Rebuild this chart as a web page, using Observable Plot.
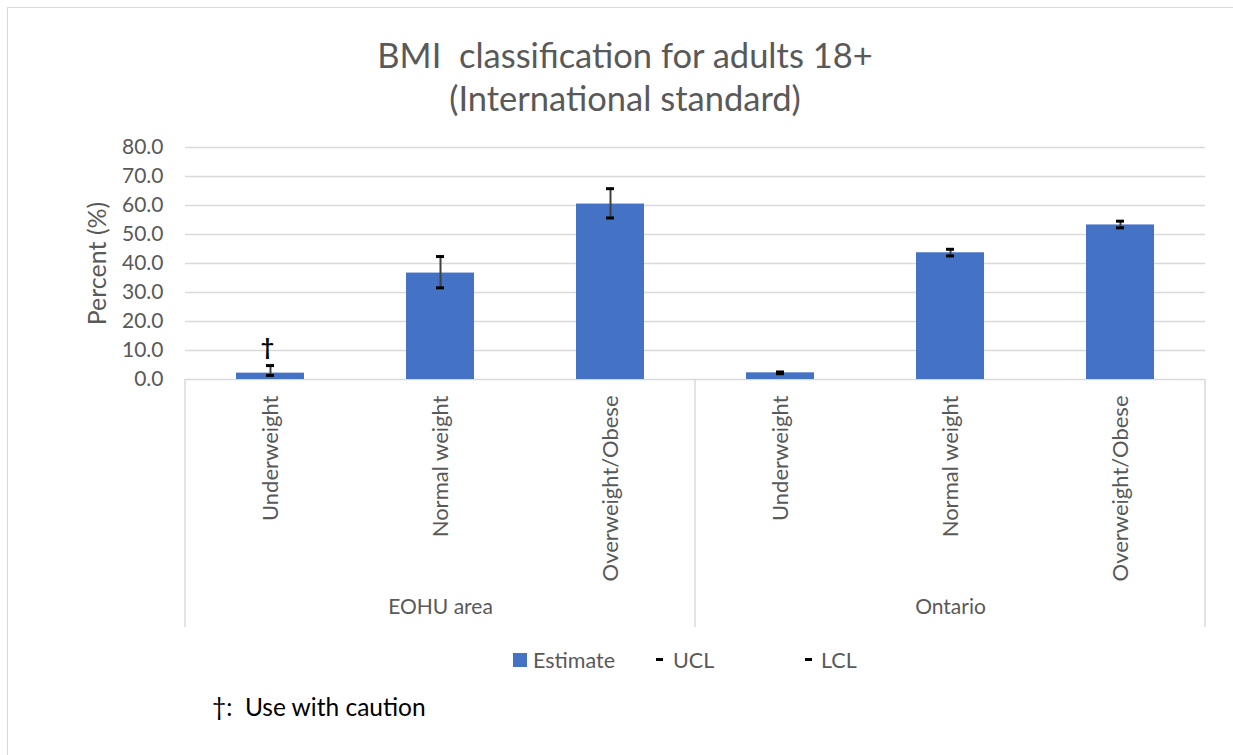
<!DOCTYPE html>
<html>
<head>
<meta charset="utf-8">
<script src="https://cdn.jsdelivr.net/npm/d3@7"></script>
<script src="https://cdn.jsdelivr.net/npm/@observablehq/plot@0.6"></script>
<style>
html, body { margin: 0; padding: 0; background: #fff; overflow: hidden; }
#frame { position: relative; width: 1233px; height: 755px; font-family: Lato, sans-serif; color: #595959; overflow: hidden; }
#border { position: absolute; left: 7px; top: 7px; width: 1260px; height: 780px; border: 1.5px solid #d9d9d9; box-sizing: border-box; }
#title { position: absolute; top: 33px; left: 0; width: 1250px; text-align: center; font-size: 34.5px; line-height: 43px; }
#chart { position: absolute; left: 0; top: 120px; }
.lg { position: absolute; font-size: 21.5px; line-height: 24px; top: 648px; white-space: nowrap; }
.sw { position: absolute; }
#note { position: absolute; left: 212px; top: 692px; font-size: 24.5px; line-height: 30px; color: #000; white-space: nowrap; }
</style>
</head>
<body>
<div id="frame">
  <div id="border"></div>
  <div id="title">BMI&nbsp; classification for adults 18+<br>(International standard)</div>
  <div id="chart"></div>
  <div class="sw" style="left:513px;top:653px;width:14px;height:14px;background:#4472c4"></div>
  <div class="lg" style="left:533px">Estimate</div>
  <div class="sw" style="left:656px;top:658px;width:7px;height:3px;background:#000"></div>
  <div class="lg" style="left:673px">UCL</div>
  <div class="sw" style="left:805px;top:658px;width:7px;height:3px;background:#000"></div>
  <div class="lg" style="left:821px">LCL</div>
  <div id="note">†:&nbsp; Use with caution</div>
</div>
<script>
const groups = ["EOHU area", "EOHU area", "EOHU area", "Ontario", "Ontario", "Ontario"];
const categories = ["Underweight", "Normal weight", "Overweight/Obese", "Underweight", "Normal weight", "Overweight/Obese"];
const estimate = [2.2, 36.7, 60.5, 2.3, 43.7, 53.3];
const ucl = [4.8, 42.4, 65.8, 2.6, 44.9, 54.6];
const lcl = [1.4, 31.6, 55.7, 2.0, 42.6, 52.3];
const caution = [true, false, false, false, false, false];
const groupNames = ["EOHU area", "Ontario"];
const groupCenters = ["Normal weight", "Normal weight"];
const yTicks = [0, 10, 20, 30, 40, 50, 60, 70, 80];

const keys = categories.map((c, i) => groups[i] + "|" + c);
const rows = keys.map((k, i) => ({key: k, group: groups[i], category: categories[i], estimate: estimate[i], ucl: ucl[i], lcl: lcl[i], caution: caution[i]}));
const groupLabels = groupNames.map((g, i) => ({group: g, key: g + "|" + groupCenters[i]}));

function dividers(index, scales, values, dimensions) {
  const {width, height, marginLeft, marginRight, marginBottom} = dimensions;
  const x = scales.x;
  const bw = x.bandwidth ? x.bandwidth() : 0;
  const pos = [marginLeft, (x(keys[2]) + x(keys[3]) + bw) / 2, width - marginRight];
  const y0 = height - marginBottom;
  const g = d3.create("svg:g");
  g.selectAll("line").data(pos).join("line")
    .attr("x1", d => d).attr("x2", d => d)
    .attr("y1", y0).attr("y2", y0 + 248)
    .attr("stroke", "#d9d9d9").attr("stroke-width", 1.5);
  return g.node();
}

const chart = Plot.plot({
  width: 1233,
  height: 520,
  marginTop: 27,
  marginBottom: 261,
  marginLeft: 185,
  marginRight: 28,
  style: {fontFamily: "Lato, sans-serif", color: "#595959", background: "transparent", overflow: "visible"},
  x: {domain: keys, paddingInner: 0.6, paddingOuter: 0.3, label: null},
  y: {domain: [0, 80], label: null},
  marks: [
    Plot.gridY(yTicks, {stroke: "#d9d9d9", strokeOpacity: 1, strokeWidth: 1.5}),
    Plot.axisY(yTicks, {tickFormat: d3.format(".1f"), tickSize: 0, tickPadding: 22, fontSize: 21, fill: "#595959", label: null}),
    Plot.axisX({tickRotate: -90, tickSize: 0, tickPadding: 16, tickFormat: d => d.split("|")[1], fontSize: 22, fill: "#595959", label: null}),
    Plot.barY(rows, {x: "key", y: "estimate", fill: "#4472c4"}),
    Plot.ruleX(rows, {x: "key", y1: "lcl", y2: "ucl", stroke: "#404040", strokeWidth: 2}),
    Plot.tickY(rows, {x: "key", y: "ucl", stroke: "#000", strokeWidth: 3, insetLeft: 30, insetRight: 30}),
    Plot.tickY(rows, {x: "key", y: "lcl", stroke: "#000", strokeWidth: 3, insetLeft: 30, insetRight: 30}),
    Plot.text(rows.filter(d => d.caution), {x: "key", y: "ucl", text: () => "†", dy: -18, dx: -3, fontSize: 23, fontWeight: "bold", fill: "#000"}),
    Plot.text(groupLabels, {x: "key", text: "group", frameAnchor: "bottom", dy: 234, fontSize: 21, fill: "#595959"}),
    Plot.text(["Percent (%)"], {frameAnchor: "left", textAnchor: "middle", rotate: -90, dx: -88, fontSize: 25, fill: "#595959"}),
    dividers
  ]
});
document.getElementById("chart").appendChild(chart);
</script>
</body>
</html>
